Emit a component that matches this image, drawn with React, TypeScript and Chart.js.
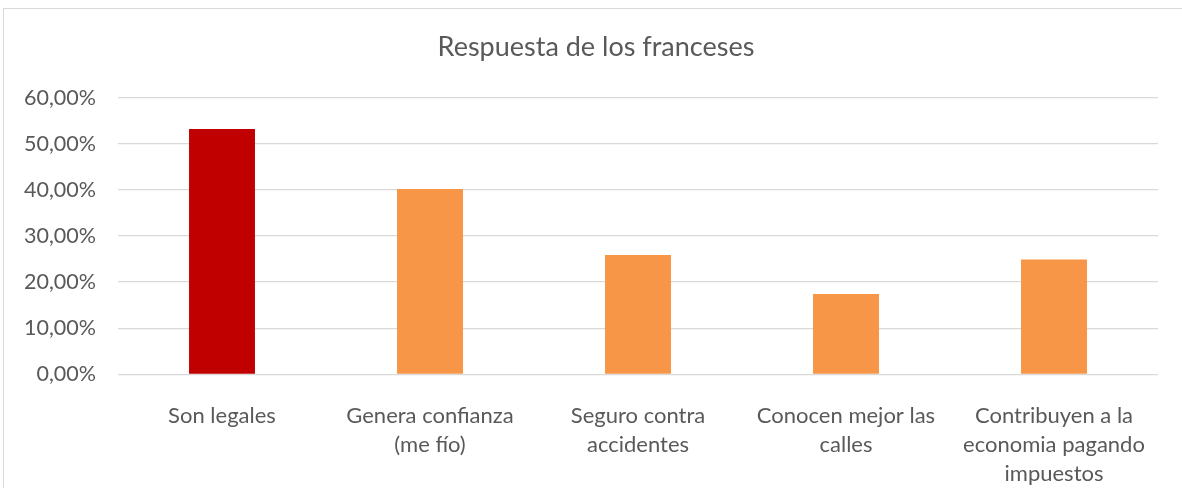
import React, { useEffect, useRef } from "react";
import { Chart, registerables } from "chart.js";

Chart.register(...registerables);

const TITLE = "Respuesta de los franceses";
const categories: (string | string[])[] = [
  "Son legales",
  ["Genera confianza", "(me fío)"],
  ["Seguro contra", "accidentes"],
  ["Conocen mejor las", "calles"],
  ["Contribuyen a la", "economia pagando", "impuestos"],
];
const values = [53.2, 40.2, 25.9, 17.4, 24.9];
const barColors = ["#C00000", "#F79646", "#F79646", "#F79646", "#F79646"];
const Y_MIN = 0;
const Y_MAX = 60;
const Y_STEP = 10;

const FONT = "Lato, 'Open Sans', sans-serif";
const TEXT = "#595959";

export default function App() {
  const ref = useRef<HTMLCanvasElement | null>(null);

  useEffect(() => {
    if (!ref.current) return;
    const chart = new Chart(ref.current, {
      type: "bar",
      data: {
        labels: categories,
        datasets: [
          {
            data: values,
            backgroundColor: barColors,
            borderWidth: 0,
            barPercentage: 0.317,
            categoryPercentage: 1,
          },
        ],
      },
      options: {
        animation: false,
        responsive: true,
        maintainAspectRatio: false,
        layout: { padding: { left: 0, right: 0, top: 0, bottom: 0 } },
        plugins: {
          legend: { display: false },
          tooltip: { enabled: false },
          title: {
            display: true,
            text: TITLE,
            color: TEXT,
            font: { family: FONT, size: 27, weight: "normal", lineHeight: 1.2 },
            padding: { top: 31.5, bottom: 33.8 },
          },
        },
        scales: {
          x: {
            grid: { display: false },
            border: { display: false },
            ticks: {
              color: TEXT,
              font: { family: FONT, size: 22, lineHeight: "29px" as any },
              padding: 19.5,
              maxRotation: 0,
              minRotation: 0,
              autoSkip: false,
            },
            afterFit: (scale: any) => {
              scale.height = 113.7;
            },
          },
          y: {
            min: Y_MIN,
            max: Y_MAX,
            grid: { color: "#D9D9D9", lineWidth: 1.3, drawTicks: false },
            border: { display: false },
            ticks: {
              stepSize: Y_STEP,
              color: TEXT,
              font: { family: FONT, size: 21.5 },
              padding: 22,
              callback: (v: any) => Number(v).toFixed(2).replace(".", ",") + "%",
            },
            afterFit: (scale: any) => {
              scale.width = 118;
            },
          },
          yRight: {
            position: "right",
            display: true,
            grid: { display: false, drawTicks: false },
            border: { display: false },
            ticks: { display: false },
            afterFit: (scale: any) => {
              scale.width = 34;
            },
          },
        },
      },
    });
    return () => chart.destroy();
  }, []);

  return (
    <div
      style={{
        position: "fixed",
        left: 0,
        top: 0,
        width: 1182,
        height: 488,
        overflow: "hidden",
        background: "#fff",
      }}
    >
      <div
        style={{
          position: "absolute",
          left: 3,
          top: 8,
          width: 1400,
          height: 700,
          border: "1px solid #D9D9D9",
          boxSizing: "border-box",
        }}
      />
      <div style={{ position: "absolute", left: 0, top: 0, width: 1192, height: 488 }}>
        <canvas ref={ref} />
      </div>
    </div>
  );
}
